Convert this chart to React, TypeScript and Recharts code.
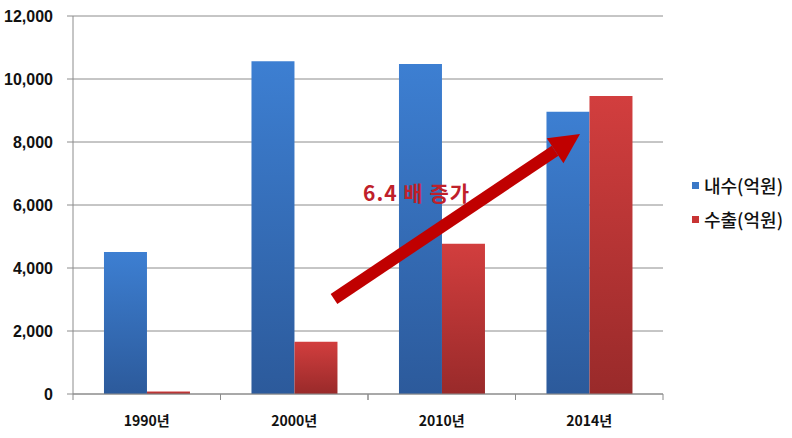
import React from 'react'
import { BarChart, Bar, XAxis, YAxis, CartesianGrid, Legend } from 'recharts'

const categories = ['1990년', '2000년', '2010년', '2014년']
const domestic = [4510, 10560, 10480, 8960]
const exports = [80, 1660, 4770, 9460]
const yTicks = [0, 2000, 4000, 6000, 8000, 10000, 12000]
const seriesNames = ['내수(억원)', '수출(억원)']
const note = '6.4 배 증가'

const data = categories.map((name, i) => ({
  name,
  domestic: domestic[i],
  exports: exports[i],
}))

const W = 792
const H = 438
const LEFT = 73
const RIGHT = 663
const BAND = (RIGHT - LEFT) / categories.length
const FONT = "'Liberation Sans', 'Noto Sans CJK KR', sans-serif"
const KFONT = "'Noto Sans CJK KR', 'Liberation Sans', sans-serif"

const XTick = (props: any) => {
  const { x, y, payload } = props
  return (
    <g>
      <line x1={x - BAND / 2} x2={x - BAND / 2} y1={y - 6} y2={y} stroke="#8c8c8c" />
      <line x1={x + BAND / 2} x2={x + BAND / 2} y1={y - 6} y2={y} stroke="#8c8c8c" />
      <text x={x} y={y + 26} textAnchor="middle" fontFamily={KFONT} fontWeight={700} fontSize={14} fill="#111">
        {payload.value}
      </text>
    </g>
  )
}

const LegendBox = () => (
  <div style={{ fontFamily: KFONT, fontSize: 18, fontWeight: 500, color: '#111' }}>
    {seriesNames.map((n, i) => (
      <div key={n} style={{ display: 'flex', alignItems: 'center', height: 34 }}>
        <span
          style={{
            width: 7,
            height: 7,
            background: i === 0 ? '#3a78c6' : '#c83434',
            marginRight: 5,
            display: 'inline-block',
          }}
        />
        {n}
      </div>
    ))}
  </div>
)

// arrow annotation
const ax1 = 334
const ay1 = 299
const ax2 = 580
const ay2 = 134
const ang = Math.atan2(ay2 - ay1, ax2 - ax1)
const headLen = 30
const headHalf = 15
const bx = ax2 - headLen * Math.cos(ang)
const by = ay2 - headLen * Math.sin(ang)
const px = -Math.sin(ang)
const py = Math.cos(ang)
const head = `${ax2},${ay2} ${bx + px * headHalf},${by + py * headHalf} ${bx - px * headHalf},${by - py * headHalf}`

export default function App() {
  return (
    <div style={{ position: 'absolute', left: 0, top: 0, width: W, height: H, background: '#fff' }}>
      <BarChart
        width={W}
        height={H}
        data={data}
        margin={{ top: 16, right: W - RIGHT, bottom: 0, left: 0 }}
        barGap={0}
        barCategoryGap="21%"
      >
        <defs>
          <linearGradient id="blueG" x1="0" y1="0" x2="0" y2="1">
            <stop offset="0%" stopColor="#3d7fd2" />
            <stop offset="100%" stopColor="#2c5a9b" />
          </linearGradient>
          <linearGradient id="redG" x1="0" y1="0" x2="0" y2="1">
            <stop offset="0%" stopColor="#d23e3e" />
            <stop offset="100%" stopColor="#992a2a" />
          </linearGradient>
        </defs>
        <CartesianGrid vertical={false} stroke="#8c8c8c" />
        <XAxis
          dataKey="name"
          height={44}
          axisLine={{ stroke: '#8c8c8c' }}
          tickLine={false}
          tickSize={6}
          tickMargin={0}
          tick={<XTick />}
          interval={0}
        />
        <YAxis
          width={LEFT}
          domain={[0, 12000]}
          ticks={yTicks}
          interval={0}
          axisLine={{ stroke: '#8c8c8c' }}
          tickLine={{ stroke: '#8c8c8c' }}
          tickSize={6}
          tickMargin={14}
          tickFormatter={(v: number) => v.toLocaleString('en-US')}
          tick={{ fontFamily: FONT, fontWeight: 700, fontSize: 16, fill: '#111' }}
        />
        <Legend
          layout="horizontal"
          align="center"
          verticalAlign="middle"
          wrapperStyle={{ left: 692, top: 168, width: 100 }}
          content={<LegendBox />}
        />
        <Bar dataKey="domestic" name={seriesNames[0]} fill="url(#blueG)" isAnimationActive={false} />
        <Bar dataKey="exports" name={seriesNames[1]} fill="url(#redG)" isAnimationActive={false} />
      </BarChart>
      <svg width={W} height={H} style={{ position: 'absolute', left: 0, top: 0, pointerEvents: 'none' }}>
        <line x1={ax1} y1={ay1} x2={bx} y2={by} stroke="#c00000" strokeWidth={12} />
        <polygon points={head} fill="#c00000" />
        <text x={363} y={201} fontFamily={KFONT} fontWeight={700} fontSize={21} letterSpacing={1} fill="#c0202a">
          {note}
        </text>
      </svg>
    </div>
  )
}
